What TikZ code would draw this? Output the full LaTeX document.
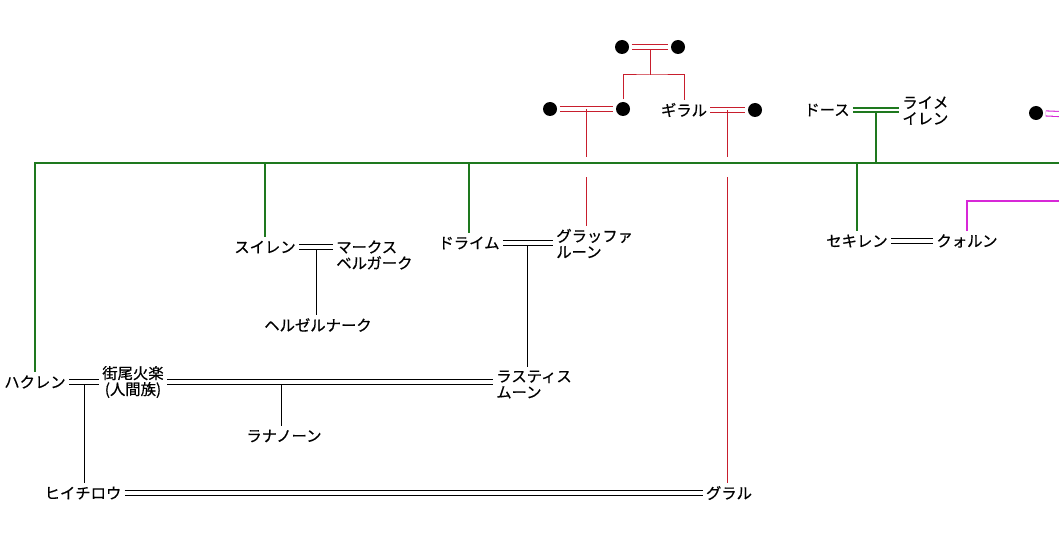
\documentclass[tikz,border=0pt]{standalone}
\usepackage{fontspec}
\newfontfamily\jp[FakeBold=0.6]{Noto Sans CJK JP}
\usetikzlibrary{positioning}

\definecolor{lineage}{RGB}{200,30,45}
\definecolor{clan}{RGB}{30,120,30}
\definecolor{house}{RGB}{215,40,215}

\tikzset{
  person/.style={font=\jp\fontsize{11.5}{12}\selectfont, inner sep=1pt, outer sep=1.5pt},
  pair/.style={person, align=left, anchor=west},
  blot/.style={circle, fill=black, inner sep=0pt, minimum size=10.5pt, outer sep=2pt},
  wed/.style={double, double distance=3pt, line width=0.6pt},
  kin/.style={line width=0.75pt},
  drop/.style={kin, shorten <=1.8pt},
}

\begin{document}
\begin{tikzpicture}[x=0.75pt, y=-0.75pt]
  \useasboundingbox (0,0) rectangle (1059,556);

  % the ancestors on top (red)
  \node[blot] (u1) at (622,47) {};
  \node[blot] (u2) at (678,47) {};
  \node[blot] (u3) at (550,109) {};
  \node[blot] (u4) at (623,109) {};
  \node[person] (giral) at (684,110) {ギラル};
  \node[blot] (u5) at (755,110) {};
  \node[blot] (u6) at (1036,113) {};

  % green house
  \node[person] (dos) at (827,110) {ドース};
  \node[pair] (raime) at (899,110.5) {ライメ\\イレン};

  % second row
  \node[person] (suiren) at (265,247) {スイレン};
  \node[pair] (marks) at (333,255) {マークス\\ベルガーク};
  \node[person] (herz) at (318,325) {ヘルゼルナーク};
  \node[person] (draim) at (469,243) {ドライム};
  \node[pair] (gruf) at (553,243.5) {グラッファ\\ルーン};
  \node[person] (sekiren) at (857,241) {セキレン};
  \node[person] (kworun) at (967,241) {クォルン};

  % lower rows
  \node[person] (haku) at (35,382) {ハクレン};
  \node[person, align=center] (kazao) at (133,382) {街尾火楽\\(人間族)};
  \node[pair] (rast) at (493,384.5) {ラスティス\\ムーン};
  \node[person] (ranan) at (284,436) {ラナノーン};
  \node[person] (hichi) at (83,493) {ヒイチロウ};
  \node[person] (gral) at (729,493) {グラル};

  \coordinate (barL) at (34,163);
  \coordinate (barR) at (1059,163);
  \coordinate (gapT) at (0,157);
  \coordinate (gapB) at (0,175);
  \coordinate (edgeM) at (1059,201);
  \coordinate (edgeW) at (1059,114);

  % red
  \draw[wed, lineage] (u1) -- coordinate (m1) (u2);
  \draw[wed, lineage] (u3) -- coordinate (m2) (u4);
  \draw[wed, lineage] (giral) -- coordinate (m3) (u5);
  \draw[drop, lineage] (m1) -- ++(0,28) coordinate (fork);
  \draw[kin, lineage] (u4) |- (fork) -| (giral);
  \draw[drop, lineage] (m2) -- (m2 |- gapT) (m2 |- gapB) -- (m2 |- gruf.north);
  \draw[drop, lineage] (m3) -- (m3 |- gapT) (m3 |- gapB) -- (m3 |- gral.north);

  % green
  \draw[clan, double, double distance=2pt, line width=1.1pt] (dos) -- coordinate (m4) (dos -| raime.west);
  \draw[clan, line width=1.5pt, shorten <=2pt] (m4) -- (m4 |- barR);
  \draw[clan, line width=1.5pt] (barL) -- (barR);
  \foreach \who in {haku, suiren, draim, sekiren}
    \draw[clan, line width=1.5pt] (\who.north |- barL) -- (\who);

  % magenta
  \draw[house, line width=1pt] (kworun) |- (edgeM);
  \draw[wed, house, line width=0.8pt] (u6) -- (edgeW);

  % black
  \draw[wed] (suiren) -- coordinate (m5) (suiren -| marks.west);
  \draw[drop] (m5) -- (m5 |- herz.north);
  \draw[wed] (draim) -- coordinate (m6) (draim -| gruf.west);
  \draw[drop] (m6) -- (m6 |- rast.north);
  \draw[wed] (haku) -- coordinate (m7) (haku -| kazao.west);
  \draw[drop] (m7) -- (m7 |- hichi.north);
  \draw[wed] (kazao) -- coordinate[pos=0.35] (m8) (kazao -| rast.west);
  \draw[drop] (m8) -- (m8 |- ranan.north);
  \draw[wed] (hichi) -- (gral);
  \draw[wed] (sekiren) -- (kworun);
\end{tikzpicture}
\end{document}
